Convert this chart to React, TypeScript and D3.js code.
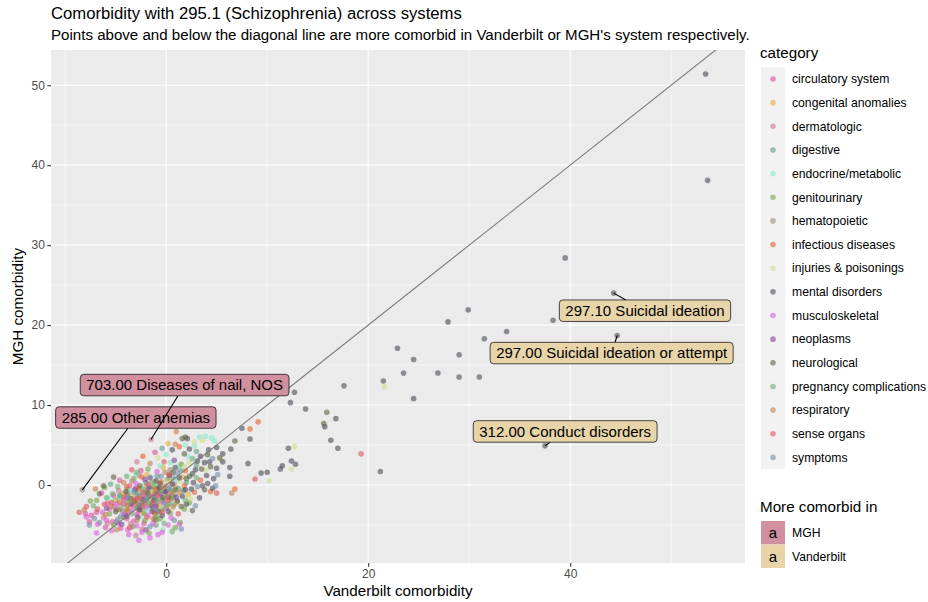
import React, { useEffect, useRef } from "react";
import * as d3 from "d3";

// categories and their point colours (drawn with alpha)
const categories = [
  "circulatory system", "congenital anomalies", "dermatologic", "digestive",
  "endocrine/metabolic", "genitourinary", "hematopoietic", "infectious diseases",
  "injuries & poisonings", "mental disorders", "musculoskeletal", "neoplasms",
  "neurological", "pregnancy complications", "respiratory", "sense organs", "symptoms",
];
const categoryColors = [
  "#dc509f", "#e1ae45", "#cd7a8c", "#639d8c", "#89e8c8", "#77a548", "#9a8b73", "#e6632a",
  "#d2de8e", "#4b4b59", "#dc5fde", "#7d4892", "#5f6342", "#6eac77", "#c57f4d", "#dc5460", "#758da9",
];

// [vanderbilt, mgh] comorbidity per phecode, one array per category
const circulatory = [[-1.1,4.1],[-2.5,1.8],[-4.6,0.6],[-3.6,-0.1],[0.0,-0.1],[-6.4,-1.0],[-5.8,-2.3],[-4.9,-3.1],[-4.2,-1.8],[-3.3,-2.6],[-2.6,-1.2],[-2.0,-2.9],[-1.4,-1.6],[-0.7,-2.4],[-3.9,-4.2],[-5.3,-4.6],[-2.9,-3.7],[-1.8,-0.6],[-6.9,-3.4],[-7.4,-3.8],[-2.2,-4.8],[-4.5,-5.4],[-0.9,-0.9],[0.5,-1.7],[-3.1,-1.5],[-3.8,-1.0],[-2.3,-2.2],[-1.2,-1.2],[-4.5,-2.9],[-3.0,-0.4],[-0.3,-0.9],[-2.7,-3.2],[-5.2,-1.3],[-8.0,-3.6],[-7.6,-4.6],[-6.0,-5.3]];
const congenital = [[0.2,5.2],[-0.3,2.2],[-2.8,-0.8],[-1.6,-2.0],[0.9,-0.3],[-3.7,-2.9],[-1.2,0.4],[1.6,1.0],[-4.3,-1.1],[-2.3,-3.4],[-0.5,-3.1],[2.2,-1.2],[-2.0,-0.2],[-0.8,-2.6],[-3.2,-2.1],[0.4,0.5],[-1.9,1.3],[1.1,-2.2]];
const dermatologic = [[-1.5,5.7],[-2.9,2.9],[-2.7,1.2],[-5.1,-2.7],[-3.5,-4.8],[-1.9,-1.1],[-0.4,-1.5],[-4.7,-0.7],[-2.4,-5.5],[0.8,0.2],[-6.2,-4.1],[-3.0,-6.3],[-1.1,-3.6],[-2.2,-1.5],[-3.9,-1.4],[-0.6,-0.4],[-1.4,-2.4],[-4.3,-3.3],[-5.8,-4.8]];
const digestive = [[-0.4,4.6],[3.0,4.2],[3.0,2.5],[0.7,0.9],[-5.5,0.1],[1.2,-0.4],[-2.2,-1.7],[-1.5,-0.4],[-3.4,-2.2],[0.3,-2.3],[-4.1,-3.6],[2.0,0.3],[-0.9,1.1],[-2.6,-2.6],[-6.6,-4.7],[-1.0,-5.0],[1.7,-0.7],[-3.8,-0.5],[-1.1,-1.6],[-2.9,-1.0],[0.6,-1.2],[-0.4,-3.0],[-2.0,0.3],[1.4,1.9],[-4.6,-1.3]];
const endocrine = [[3.3,6.0],[3.9,6.1],[4.5,5.9],[4.8,5.5],[0.0,3.8],[-1.5,1.0],[-2.4,-0.3],[2.8,4.9],[-3.0,1.4],[-0.2,-1.2],[-1.9,-3.2],[1.3,2.4],[-5.7,-1.6],[-2.7,-4.1],[-0.3,-5.6],[-4.4,-2.6],[2.2,3.6],[-1.2,-2.3],[-0.9,-0.1],[-2.5,-1.0],[1.0,0.6],[-3.5,-0.7],[-1.6,-1.9],[0.4,2.8],[1.9,5.0],[-0.6,2.4]];
const genitourinary = [[1.5,2.6],[-1.8,2.0],[-3.2,0.8],[0.1,0.7],[-6.1,-0.3],[-1.2,-0.2],[-5.0,-1.9],[-3.9,-3.0],[-2.5,-2.1],[-1.3,-3.0],[0.4,-3.5],[-0.6,-4.2],[-2.1,-4.4],[1.4,-4.7],[0.9,-5.3],[-4.2,-4.0],[-1.7,-6.0],[0.1,-2.6],[-3.3,-5.2],[-6.9,-1.9],[-5.6,-3.6],[1.8,-3.0],[2.3,-2.2],[-1.9,-1.6],[-0.4,-1.9],[-2.8,-2.8],[-3.7,-1.3],[-1.0,-3.9],[0.7,-1.6],[-2.2,-3.6],[-4.6,-3.1],[-0.2,-0.5],[-7.5,-2.0],[-5.2,-5.0]];
const hematopoietic = [[-8.3,-0.6],[0.4,1.9],[-2.0,-0.9],[-3.6,-1.9],[-0.8,-1.8],[-4.8,-4.3],[0.9,-1.1],[-2.9,-2.9],[-1.3,-0.7],[-2.4,-2.8],[0.0,-2.9],[-3.4,0.5]];
const infectious = [[9.1,7.9],[8.3,7.0],[6.8,-0.5],[4.4,-0.8],[1.3,4.8],[-2.3,3.6],[1.9,1.8],[3.4,0.6],[1.8,-0.1],[-1.6,-1.3],[-3.8,-3.3],[-0.5,0.4],[2.8,-0.9],[-2.7,-0.4],[-4.6,-2.2],[0.2,-1.9],[-1.9,-4.0],[-1.0,-0.5],[-2.9,-2.3],[0.5,-0.9],[-3.9,-0.2],[-1.2,-3.4],[-4.2,-1.5],[-2.4,1.0]];
const injuries = [[21.6,12.3],[12.7,4.8],[12.4,2.0],[10.2,0.5],[5.4,3.2],[3.6,5.6],[2.8,5.4],[-0.8,3.4],[2.3,2.8],[1.3,0.4],[-0.3,-0.6],[-3.3,-1.2],[3.9,1.9],[-5.2,-2.1],[0.6,-2.9],[-2.1,-2.4],[2.4,-1.7],[-1.0,-4.6],[-1.5,-0.8],[0.2,0.3],[-2.6,-1.9],[1.0,-0.8],[-3.6,-2.0],[-0.6,-2.7],[1.8,2.3]];
const mental = [[53.4,51.4],[53.6,38.1],[39.5,28.4],[44.3,24.0],[29.9,21.9],[27.9,20.4],[38.3,20.6],[33.7,19.2],[31.5,18.3],[44.65,18.7],[22.9,17.1],[24.5,15.7],[29.0,16.3],[21.5,13.0],[23.5,14.0],[26.9,14.0],[29.0,13.5],[31.0,13.5],[24.5,10.8],[37.5,4.9],[17.6,12.4],[12.7,11.6],[12.3,10.3],[13.8,9.5],[16.8,8.3],[15.7,7.3],[16.3,5.6],[17.0,4.6],[21.2,1.7],[12.1,4.6],[12.4,3.0],[12.8,2.6],[11.5,2.4],[11.3,2.0],[10.0,1.6],[9.4,1.5],[8.1,2.7],[8.3,5.75],[7.5,7.1],[6.4,4.5],[5.6,3.9],[6.3,2.2],[6.3,1.1],[2.1,5.8],[0.6,4.4],[2.3,4.5],[4.2,4.4],[5.0,4.7],[3.4,3.6],[3.8,2.8],[5.0,2.1],[2.6,1.4],[4.0,1.2],[4.7,0.8],[-1.0,0.5],[2.7,0.3],[4.1,0.2],[0.6,0.1],[2.5,-0.5],[1.6,-1.4],[3.3,-1.6],[-0.1,-0.8],[2.0,-2.4],[-1.5,-2.6],[4.6,-0.4],[0.9,2.2],[3.1,3.0],[-0.4,-3.8],[1.1,-2.0],[-2.6,-3.1],[5.6,2.9],[4.3,2.9],[1.3,0.9],[0.2,-1.5],[-0.7,-0.3],[1.9,-0.6],[3.6,-0.1],[0.3,1.2],[-1.2,-1.9],[2.9,1.9]];
const musculoskeletal = [[-0.9,1.7],[-3.0,0.2],[-4.0,-1.6],[-5.6,-3.0],[-6.3,-3.4],[-4.7,-4.8],[-3.2,-4.5],[-2.4,-5.9],[-1.6,-6.6],[-2.7,-6.9],[-0.4,-5.9],[1.3,-4.9],[0.5,-4.1],[-3.7,-6.2],[-5.4,-5.7],[-1.1,-2.8],[-2.3,-1.4],[-0.2,-2.1],[-6.8,-4.9],[-4.1,-3.7],[-2.0,-2.6],[-3.4,-3.2],[-1.3,-4.8],[-4.9,-2.4],[-2.9,-5.1],[-1.8,-3.8],[-0.8,-6.2],[-5.9,-4.4],[-3.8,-5.6],[0.2,-5.0],[-7.9,-4.0],[-6.9,-6.0]];
const neoplasms = [[-2.1,0.7],[0.8,3.1],[-1.7,-0.3],[-3.5,-2.4],[-0.6,-1.1],[-2.8,-4.0],[1.0,-1.5],[-4.4,-4.9],[-1.4,-3.3],[-5.9,-2.9],[-2.0,-5.6],[0.2,-3.3],[-2.4,-1.8],[-1.0,-2.6],[-3.1,-0.6],[0.0,-0.8],[-3.9,-3.9],[-1.6,0.9]];
const neurological = [[15.9,9.1],[15.6,7.7],[6.8,5.5],[1.6,5.8],[1.8,3.9],[5.3,3.4],[4.4,2.3],[-5.2,1.0],[2.0,0.8],[-0.6,0.2],[3.8,-0.6],[-6.2,-0.1],[-4.0,-0.8],[1.5,-2.7],[3.5,2.0],[-3.1,-2.0],[-0.8,-3.3],[2.6,-3.2],[0.7,1.6],[-5.0,-3.3],[4.1,3.8],[1.9,6.0],[-1.8,-1.0],[-0.3,-1.6],[-2.6,-0.1],[0.9,-0.6],[-3.5,-1.7],[-1.1,-4.3],[2.3,1.1],[-6.6,-1.1]];
const pregnancy = [[2.6,3.3],[-3.9,1.1],[-4.8,-0.2],[-2.2,-0.6],[0.4,-0.6],[-5.9,-1.6],[-3.4,-3.6],[-1.0,-2.0],[1.9,-1.9],[-0.2,-4.8],[-4.6,-1.5],[-7.2,-2.6],[0.6,-5.8],[-2.9,1.6],[3.0,0.9],[-1.6,-2.3],[-2.7,-1.3],[-0.5,-0.8],[-3.8,-2.2],[-0.9,-4.3],[0.8,-2.4],[-1.4,0.3],[-5.3,-1.1]];
const respiratory = [[6.5,-1.0],[1.0,6.7],[0.9,5.1],[-1.6,2.7],[-4.2,0.3],[-7.0,-0.5],[-2.6,-1.6],[-0.3,-0.3],[-3.8,-2.5],[-1.3,-4.2],[-6.0,-3.7],[1.4,-0.9],[-4.9,-5.6],[0.7,-2.7],[-2.1,-2.3],[-1.1,-1.0],[-3.3,-1.9],[0.1,-1.4],[-2.9,-4.4],[-0.1,1.6],[-5.4,-2.7],[-8.1,-3.1]];
const senseOrgans = [[19.3,3.9],[8.8,0.75],[5.0,-1.0],[-0.2,2.9],[-3.4,1.9],[-1.8,0.1],[-7.9,-2.7],[-6.8,-3.0],[-2.4,-2.5],[-0.9,-1.3],[1.2,-3.6],[-3.6,-5.3],[-5.4,-2.2],[0.3,1.3],[-2.9,-1.7],[-1.3,-2.2],[-4.2,-2.4],[-0.4,-3.4],[-2.3,-0.9],[-6.1,-2.4],[-8.6,-3.4]];
const symptoms = [[4.6,3.3],[5.1,1.3],[1.1,1.5],[-0.5,1.1],[3.1,-0.2],[4.9,-0.1],[-2.0,-1.9],[-4.5,-3.9],[-7.1,-4.2],[0.8,-4.4],[2.9,-2.6],[-1.6,-5.2],[-3.2,-0.9],[1.5,-5.5],[-1.7,-1.4],[-0.2,-2.3],[-2.7,-2.4],[-3.8,-1.6],[0.3,-0.4],[-1.0,-3.1],[-4.9,-4.6],[-7.6,-5.0]];

const seriesPoints = [
  circulatory, congenital, dermatologic, digestive, endocrine, genitourinary, hematopoietic,
  infectious, injuries, mental, musculoskeletal, neoplasms, neurological, pregnancy,
  respiratory, senseOrgans, symptoms,
];

// labelled phecodes: point, repelled label centre, system
const labelTexts = [
  "285.00 Other anemias", "703.00 Diseases of nail, NOS", "297.10 Suicidal ideation",
  "297.00 Suicidal ideation or attempt", "312.00 Conduct disorders",
];
const labelPoints = [[-8.3,-0.6],[-1.5,5.7],[44.3,24.0],[44.65,18.7],[37.5,4.9]];
const labelCentres = [[-3.0,8.44],[1.83,12.5],[47.4,21.8],[44.1,16.5],[39.5,6.7]];
const labelSide = [0, 0, 1, 1, 1];
const sideNames = ["MGH", "Vanderbilt"];
const sideColors = ["#d0909f", "#e8d4a9"];

// axis limits and ticks
const xLimits = [-11.4, 57.3];
const yLimits = [-9.75, 54.4];
const xTicks = [0, 20, 40];
const yTicks = [0, 10, 20, 30, 40, 50];
const xMinor = [-10, 10, 30, 50];
const yMinor = [-5, 5, 15, 25, 35, 45];

const FONT = "'Liberation Sans', Arial, Helvetica, sans-serif";

const drawChart = (el: SVGSVGElement) => {
  const svg = d3.select(el);
  svg.selectAll("*").remove();
  svg.attr("font-family", FONT);

  const left = 51, right = 745, top = 50, bottom = 563;
  const x = d3.scaleLinear().domain(xLimits).range([left, right]);
  const y = d3.scaleLinear().domain(yLimits).range([bottom, top]);

  svg.append("rect").attr("width", 928).attr("height", 602).attr("fill", "#ffffff");

  // titles
  svg.append("text").attr("x", left).attr("y", 19).attr("font-size", 16.7).attr("fill", "#000")
    .text("Comorbidity with 295.1 (Schizophrenia) across systems");
  svg.append("text").attr("x", left).attr("y", 40).attr("font-size", 15.1).attr("fill", "#000")
    .text("Points above and below the diagonal line are more comorbid in Vanderbilt or MGH's system respectively.");

  // panel
  svg.append("rect").attr("x", left).attr("y", top).attr("width", right - left).attr("height", bottom - top)
    .attr("fill", "#ebebeb");
  svg.append("defs").append("clipPath").attr("id", "panel")
    .append("rect").attr("x", left).attr("y", top).attr("width", right - left).attr("height", bottom - top);

  const grid = svg.append("g").attr("stroke", "#ffffff");
  grid.selectAll(".xm").data(xMinor).join("line").attr("x1", (d) => x(d)).attr("x2", (d) => x(d))
    .attr("y1", top).attr("y2", bottom).attr("stroke-width", 0.55);
  grid.selectAll(".ym").data(yMinor).join("line").attr("y1", (d) => y(d)).attr("y2", (d) => y(d))
    .attr("x1", left).attr("x2", right).attr("stroke-width", 0.55);
  grid.selectAll(".xM").data(xTicks).join("line").attr("x1", (d) => x(d)).attr("x2", (d) => x(d))
    .attr("y1", top).attr("y2", bottom).attr("stroke-width", 1.1);
  grid.selectAll(".yM").data(yTicks).join("line").attr("y1", (d) => y(d)).attr("y2", (d) => y(d))
    .attr("x1", left).attr("x2", right).attr("stroke-width", 1.1);

  const plot = svg.append("g").attr("clip-path", "url(#panel)");

  // points
  seriesPoints.forEach((pts, i) => {
    plot.append("g").selectAll("circle").data(pts).join("circle")
      .attr("cx", (d) => x(d[0])).attr("cy", (d) => y(d[1])).attr("r", 2.8)
      .attr("fill", categoryColors[i]).attr("fill-opacity", 0.6);
  });

  // diagonal y = x
  const lo = Math.min(xLimits[0], yLimits[0]) - 1, hi = Math.max(xLimits[1], yLimits[1]) + 1;
  plot.append("line").attr("x1", x(lo)).attr("y1", y(lo)).attr("x2", x(hi)).attr("y2", y(hi))
    .attr("stroke", "#7a7a7a").attr("stroke-width", 1.1);

  // repelled labels
  const lab = svg.append("g");
  labelTexts.forEach((t, i) => {
    const px = x(labelPoints[i][0]), py = y(labelPoints[i][1]);
    const cx = x(labelCentres[i][0]), cy = y(labelCentres[i][1]);
    const g = lab.append("g");
    const seg = g.append("line");
    const rect = g.append("rect");
    const txt = g.append("text").attr("x", cx).attr("y", cy).attr("dy", "0.36em")
      .attr("text-anchor", "middle").attr("font-size", 15).attr("fill", "#000").text(t);
    const w = (txt.node() as SVGTextElement).getComputedTextLength() + 12;
    const h = 21.5;
    const bx = cx - w / 2, by = cy - h / 2;
    rect.attr("x", bx).attr("y", by).attr("width", w).attr("height", h).attr("rx", 3.5)
      .attr("fill", sideColors[labelSide[i]]).attr("stroke", "#000").attr("stroke-width", 0.7);
    // segment from the point to the box edge along the centre line
    const dx = cx - px, dy = cy - py;
    const tx = dx !== 0 ? (w / 2) / Math.abs(dx) : Infinity;
    const ty = dy !== 0 ? (h / 2) / Math.abs(dy) : Infinity;
    const s = 1 - Math.min(tx, ty, 1);
    seg.attr("x1", px).attr("y1", py).attr("x2", px + dx * s).attr("y2", py + dy * s)
      .attr("stroke", "#000").attr("stroke-width", 1.1);
  });

  // axes
  const yAxis = svg.append("g").attr("transform", `translate(${left},0)`)
    .call(d3.axisLeft(y).tickValues(yTicks).tickSize(3.7).tickPadding(2.5));
  const xAxis = svg.append("g").attr("transform", `translate(0,${bottom})`)
    .call(d3.axisBottom(x).tickValues(xTicks).tickSize(3.7).tickPadding(2.5));
  [yAxis, xAxis].forEach((a) => {
    a.select(".domain").remove();
    a.selectAll(".tick line").attr("stroke", "#333333").attr("stroke-width", 1.1);
    a.selectAll(".tick text").attr("fill", "#4d4d4d").attr("font-size", 12).attr("font-family", FONT);
  });

  svg.append("text").attr("x", (left + right) / 2).attr("y", 596).attr("text-anchor", "middle")
    .attr("font-size", 15.2).text("Vanderbilt comorbidity");
  svg.append("text").attr("transform", `translate(23,${(top + bottom) / 2}) rotate(-90)`)
    .attr("text-anchor", "middle").attr("font-size", 15.2).text("MGH comorbidity");

  // category legend
  const lx = 761, keyW = 24, step = 23.65, firstY = 79;
  svg.append("text").attr("x", 760).attr("y", 58).attr("font-size", 15.2).text("category");
  svg.append("rect").attr("x", lx).attr("y", firstY - step / 2).attr("width", keyW)
    .attr("height", step * categories.length).attr("fill", "#f2f2f2");
  const items = svg.append("g").selectAll("g").data(categories).join("g")
    .attr("transform", (_d, i) => `translate(0,${firstY + i * step})`);
  items.append("circle").attr("cx", lx + keyW / 2).attr("cy", 0).attr("r", 2.8)
    .attr("fill", (_d, i) => categoryColors[i]).attr("fill-opacity", 0.6);
  items.append("text").attr("x", 792).attr("dy", "0.35em").attr("font-size", 12.2).text((d) => d);

  // system legend
  svg.append("text").attr("x", 760).attr("y", 512).attr("font-size", 15.2).text("More comorbid in");
  const sItems = svg.append("g").selectAll("g").data(sideNames).join("g")
    .attr("transform", (_d, i) => `translate(0,${521 + i * 23.5})`);
  sItems.append("rect").attr("x", lx).attr("width", keyW).attr("height", 23.5)
    .attr("fill", (_d, i) => sideColors[i]);
  sItems.append("text").attr("x", lx + keyW / 2).attr("y", 11.75).attr("dy", "0.35em")
    .attr("text-anchor", "middle").attr("font-size", 15).text("a");
  sItems.append("text").attr("x", 792).attr("y", 11.75).attr("dy", "0.35em").attr("font-size", 12.2)
    .text((d) => d);
};

export default function App() {
  const ref = useRef<SVGSVGElement>(null);
  useEffect(() => {
    if (ref.current) drawChart(ref.current);
  }, []);
  return (
    <svg ref={ref} width={928} height={602}
      style={{ position: "absolute", left: 0, top: 0, display: "block" }} />
  );
}
